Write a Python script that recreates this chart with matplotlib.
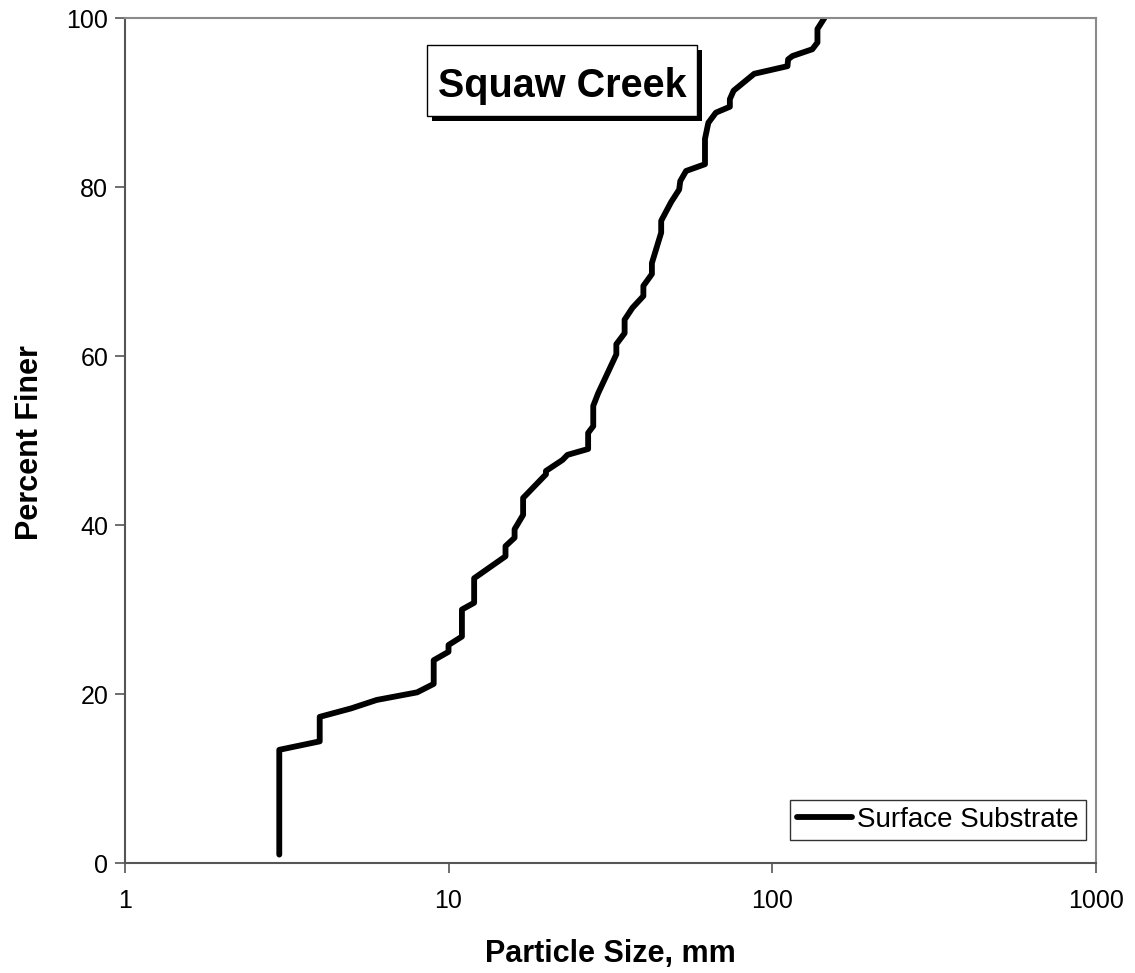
import matplotlib
matplotlib.use("Agg")
import matplotlib.pyplot as plt
from matplotlib.patches import Rectangle

plt.rcParams['font.family'] = ['Liberation Sans', 'DejaVu Sans']

particle_size = [3, 3, 4, 4, 5, 6, 8, 9, 9, 10, 10, 11, 11, 12, 12, 15, 15, 16, 16, 17, 17,
                 20, 20, 22.5, 23.3, 27, 27, 28, 28, 29, 33, 33, 35, 35, 37, 40, 40, 42.5, 42.5,
                 45.4, 45.4, 48.7, 51.6, 52, 54.2, 62, 62, 63.5, 67, 74, 74, 76, 88, 111.5, 112,
                 115.5, 133, 138, 138, 145]
percent_finer = [1.0, 13.4, 14.4, 17.3, 18.3, 19.3, 20.2, 21.2, 24.0, 25.0, 25.8, 26.8, 30.0,
                 30.8, 33.7, 36.3, 37.5, 38.5, 39.5, 41.2, 43.2, 46.0, 46.4, 47.7, 48.3, 49.0,
                 50.9, 51.7, 54.1, 55.6, 60.2, 61.4, 62.7, 64.3, 65.7, 67.1, 68.3, 69.7, 71.0,
                 74.6, 76.0, 78.2, 79.7, 80.7, 81.9, 82.7, 85.7, 87.6, 88.8, 89.5, 90.4, 91.4,
                 93.4, 94.3, 95.1, 95.5, 96.3, 97.1, 98.7, 100.0]
x_ticks = [1, 10, 100, 1000]
x_tick_labels = ['1', '10', '100', '1000']
y_ticks = [0, 20, 40, 60, 80, 100]

fig = plt.figure(figsize=(11.35, 9.73), dpi=100)
ax = fig.add_axes([0.110, 0.113, 0.8555, 0.8685])

ax.plot(particle_size, percent_finer, color='black', lw=4.2, solid_joinstyle='round',
        solid_capstyle='round', label='Surface Substrate', zorder=2)

ax.set_xscale('log')
ax.set_xlim(1, 1000)
ax.set_ylim(0, 100)
ax.set_xticks(x_ticks)
ax.set_xticklabels(x_tick_labels)
ax.xaxis.set_minor_locator(matplotlib.ticker.NullLocator())
ax.set_yticks(y_ticks)
ax.tick_params(axis='both', direction='out', length=7, width=1.2, labelsize=18,
               color='#555555')
ax.tick_params(axis='x', pad=12)
ax.tick_params(axis='y', pad=5)

for side in ['left', 'bottom']:
    ax.spines[side].set_color('#555555')
    ax.spines[side].set_linewidth(1.5)
for side in ['top', 'right']:
    ax.spines[side].set_color('#8a8a8a')
    ax.spines[side].set_linewidth(1.5)

ax.set_xlabel('Particle Size, mm', fontsize=22, fontweight='bold')
ax.xaxis.set_label_coords(0.5, -0.090)
ax.set_ylabel('Percent Finer', fontsize=22, fontweight='bold')
ax.yaxis.set_label_coords(-0.082, 0.498)

# title box with drop shadow (axes coordinates)
bx0, bx1, by0, by1 = 0.3107, 0.5895, 0.8840, 0.9680
sdx, sdy = 0.0052, 0.0060
ax.add_patch(Rectangle((bx0 + sdx, by0 - sdy), bx1 - bx0, by1 - by0, transform=ax.transAxes,
                       facecolor='black', edgecolor='black', lw=0, zorder=4, clip_on=False))
ax.add_patch(Rectangle((bx0, by0), bx1 - bx0, by1 - by0, transform=ax.transAxes,
                       facecolor='white', edgecolor='black', lw=1.0, zorder=5, clip_on=False))
ax.text(0.4501, 0.9065, 'Squaw Creek', transform=ax.transAxes, fontsize=28.5,
        fontweight='bold', ha='center', va='baseline', zorder=6)

leg = ax.legend(loc='lower right', bbox_to_anchor=(0.9897, 0.0272), borderaxespad=0,
                fontsize=20, frameon=True, fancybox=False, edgecolor='black',
                handlelength=2.0, handletextpad=0.18, borderpad=0.25)
leg.get_frame().set_linewidth(1.0)

fig.savefig('out.png', dpi=100, facecolor='white')
